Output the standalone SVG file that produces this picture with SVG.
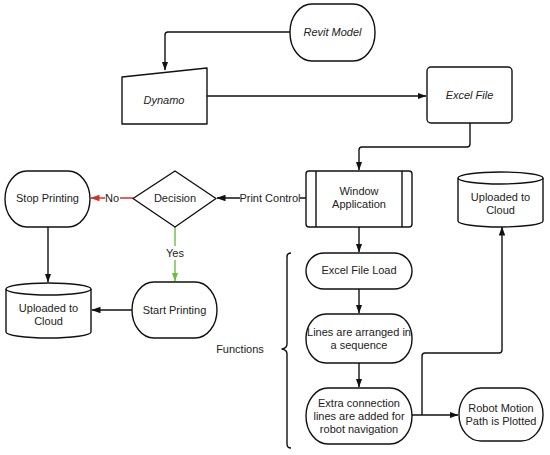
<svg xmlns="http://www.w3.org/2000/svg" width="550" height="455" viewBox="0 0 550 455">
<defs>
<marker id="ab" markerWidth="9" markerHeight="8" refX="8.5" refY="4" orient="auto" markerUnits="userSpaceOnUse"><path d="M0,0.8 L9,4 L0,7.2 Z" fill="#111"/></marker>
<marker id="ar" markerWidth="9" markerHeight="8" refX="8.5" refY="4" orient="auto" markerUnits="userSpaceOnUse"><path d="M0,0.8 L9,4 L0,7.2 Z" fill="#d0312d"/></marker>
<marker id="ag" markerWidth="9" markerHeight="8" refX="8.5" refY="4" orient="auto" markerUnits="userSpaceOnUse"><path d="M0,0.8 L9,4 L0,7.2 Z" fill="#6cbf3c"/></marker>
</defs>
<style>
.s{fill:#fff;stroke:#111;stroke-width:1.4;stroke-linejoin:round}
.c{fill:none;stroke:#111;stroke-width:1.4;stroke-linejoin:round}
.t{font-family:"Liberation Sans",Arial,sans-serif;font-size:11px;fill:#222;text-anchor:middle}
.i{font-style:italic}
</style>
<rect width="550" height="455" fill="#fff"/>
<g id="connectors">
<path class="c" d="M290,32 H168 Q165,32 165,35 V70" marker-end="url(#ab)"/>
<path class="c" d="M207,96 H426" marker-end="url(#ab)"/>
<path class="c" d="M470,123 V144 Q470,147 467,147 H362 Q359,147 359,150 V170" marker-end="url(#ab)"/>
<path class="c" d="M306,198 H217" marker-end="url(#ab)"/>
<path d="M133,198 H91" fill="none" stroke="#d0312d" stroke-width="1.4" marker-end="url(#ar)"/>
<path d="M175,227 V281" fill="none" stroke="#6cbf3c" stroke-width="1.4" marker-end="url(#ag)"/>
<path class="c" d="M48,227 V282" marker-end="url(#ab)"/>
<path class="c" d="M132,310 H92" marker-end="url(#ab)"/>
<path class="c" d="M359,227 V252" marker-end="url(#ab)"/>
<path class="c" d="M359,289 V313" marker-end="url(#ab)"/>
<path class="c" d="M359,363 V387" marker-end="url(#ab)"/>
<path class="c" d="M412,415 H458" marker-end="url(#ab)"/>
<path class="c" d="M422,415 V356 Q422,353 425,353 H499 Q502,353 502,350 V227" marker-end="url(#ab)"/>
<rect x="240" y="190" width="60" height="15" fill="#fff"/>
<text class="t" x="270" y="202">Print Control</text>
<rect x="105" y="191" width="15" height="14" fill="#fff"/>
<text class="t" x="112" y="202">No</text>
<rect x="164" y="246" width="22" height="14" fill="#fff"/>
<text class="t" x="175" y="257">Yes</text>
</g>
<g id="revit"><rect class="s" x="290" y="4" width="85" height="57" rx="22" ry="28"/><text class="t i" x="332.5" y="36">Revit Model</text></g>
<g id="dynamo"><path class="s" d="M122,77 L207,68 V124 H122 Z"/><text class="t i" x="164" y="104">Dynamo</text></g>
<g id="excel"><rect class="s" x="427" y="67" width="85" height="56" rx="4"/><text class="t i" x="469.5" y="99">Excel File</text></g>
<g id="window"><rect class="s" x="306" y="171" width="106" height="56" rx="3"/><path class="c" d="M316,171 V227 M402,171 V227"/><text class="t" x="359" y="195">Window</text><text class="t" x="359" y="208">Application</text></g>
<g id="cloud-right"><path class="s" d="M458,178 A42.5,6 0 0 1 543,178 V221 A42.5,6 0 0 1 458,221 Z"/><path class="c" d="M458,178 A42.5,6 0 0 0 543,178"/><text class="t" x="500.5" y="201">Uploaded to</text><text class="t" x="500.5" y="214">Cloud</text></g>
<g id="decision"><path class="s" d="M133,198.5 L175,171 L216,198.5 L175,227 Z"/><text class="t" x="175" y="202">Decision</text></g>
<g id="stop"><rect class="s" x="5" y="171" width="85" height="56" rx="22" ry="28"/><text class="t" x="47.5" y="202">Stop Printing</text></g>
<g id="cloud-left"><path class="s" d="M6,289 A42.5,6 0 0 1 91,289 V332 A42.5,6 0 0 1 6,332 Z"/><path class="c" d="M6,289 A42.5,6 0 0 0 91,289"/><text class="t" x="48.5" y="312">Uploaded to</text><text class="t" x="48.5" y="325">Cloud</text></g>
<g id="start"><rect class="s" x="132" y="282" width="85" height="56" rx="22" ry="28"/><text class="t" x="174.5" y="314">Start Printing</text></g>
<g id="functions"><path class="c" d="M291,253 Q287,253 287,257 V344 Q287,348 282,349 Q287,350 287,354 V444 Q287,448 291,448"/><text class="t" x="240" y="353">Functions</text></g>
<g id="load"><rect class="s" x="306" y="253" width="106" height="36" rx="18" ry="18"/><text class="t" x="359" y="274">Excel File Load</text></g>
<g id="lines"><rect class="s" x="306" y="314" width="106" height="49" rx="20" ry="24"/><text class="t" x="359" y="336">Lines are arranged in</text><text class="t" x="359" y="349">a sequence</text></g>
<g id="extra"><rect class="s" x="306" y="388" width="106" height="56" rx="22" ry="28"/><text class="t" x="359" y="407">Extra connection</text><text class="t" x="359" y="420">lines are added for</text><text class="t" x="359" y="433">robot navigation</text></g>
<g id="robot"><rect class="s" x="459" y="388" width="84" height="53" rx="22" ry="26"/><text class="t" x="501" y="412">Robot Motion</text><text class="t" x="501" y="425">Path is Plotted</text></g>
</svg>
